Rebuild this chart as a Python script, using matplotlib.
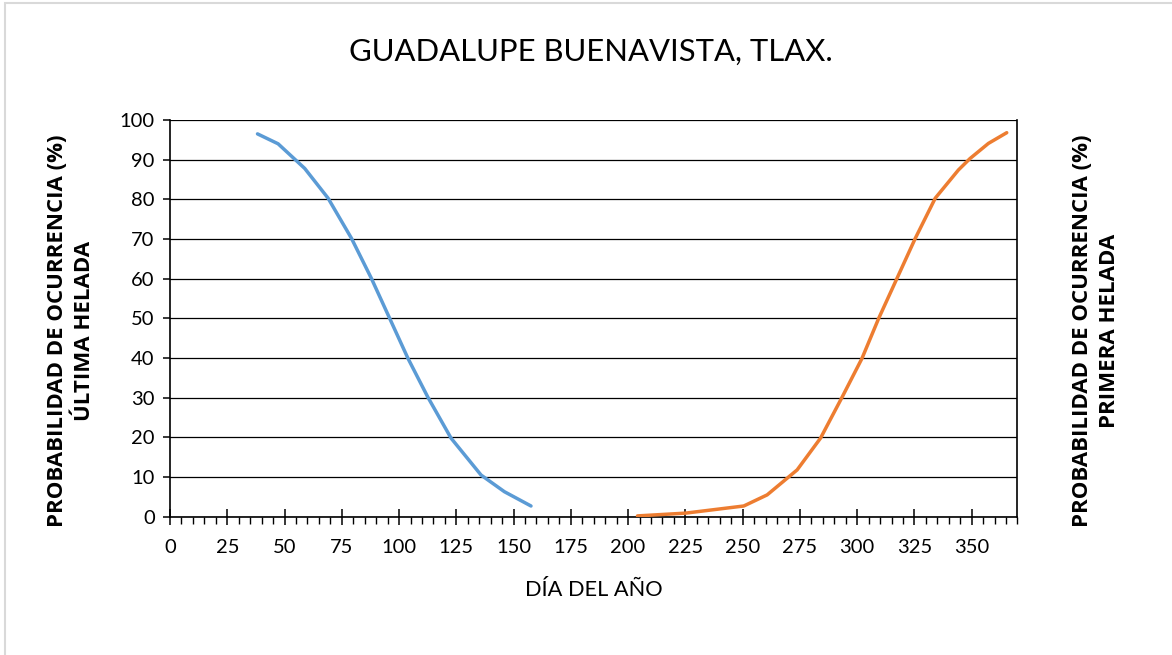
import matplotlib.pyplot as plt
from matplotlib.patches import Rectangle
from matplotlib.ticker import MultipleLocator

plt.rcParams['font.family'] = ['Lato', 'DejaVu Sans']

# ultima helada (blue)
dia_ultima = [38.2, 47.2, 58.8, 69.0, 79.2, 87.9, 95.9, 103.9, 112.6, 122.7, 135.8, 146.0, 157.6]
prob_ultima = [96.5, 94.0, 87.8, 80.3, 70.2, 60.1, 50.0, 39.9, 30.1, 19.8, 10.5, 6.3, 2.7]

# primera helada (orange)
dia_primera = [204.1, 225.1, 250.5, 260.7, 273.8, 284.0, 293.4, 302.1, 309.4, 317.4,
               325.4, 334.1, 344.2, 349.3, 357.3, 365.3]
prob_primera = [0.2, 0.9, 2.7, 5.5, 11.8, 19.8, 30.1, 39.9, 50.0, 60.1,
                70.2, 80.3, 87.4, 90.3, 94.1, 96.8]

W, H = 1172, 655
fig = plt.figure(figsize=(W / 100, H / 100), dpi=100)

# light border of the chart box
fig.patches.append(Rectangle((5 / W, -0.1), 1.2, 1 - 3 / H + 0.1, transform=fig.transFigure,
                             fill=False, edgecolor='#d9d9d9', lw=1.5))

ax = fig.add_axes([170 / W, 1 - 516.7 / H, (1017.5 - 170) / W, (516.7 - 120) / H])

ax.plot(dia_ultima, prob_ultima, color='#5B9BD5', lw=2.5, solid_joinstyle='round',
        solid_capstyle='round', zorder=3)
ax.plot(dia_primera, prob_primera, color='#ED7D31', lw=2.5, solid_joinstyle='round',
        solid_capstyle='round', zorder=3)

ax.set_xlim(0, 370)
ax.set_ylim(0, 100)
ax.xaxis.set_minor_locator(MultipleLocator(5))
ax.yaxis.set_major_locator(MultipleLocator(10))
ax.set_xticks(range(0, 351, 25))
ax.grid(axis='y', color='black', lw=0.9)
ax.set_axisbelow(True)

ax.spines['top'].set_visible(False)
for s in ['left', 'bottom', 'right']:
    ax.spines[s].set_linewidth(1.2)

ax.tick_params(axis='x', which='major', direction='inout', length=12, width=1.1,
               labelsize=14.5, pad=10)
ax.tick_params(axis='x', which='minor', direction='out', length=5, width=1)
ax.tick_params(axis='y', which='major', direction='out', length=5, width=1.1,
               labelsize=14.5, pad=6)

ax.set_xlabel('DÍA DEL AÑO', fontsize=15.7, labelpad=17)

fig.text(591 / W, 1 - 52 / H, 'GUADALUPE BUENAVISTA, TLAX.',
         ha='center', va='center', fontsize=22.3)

lab = dict(rotation=90, ha='center', va='center', fontsize=16, fontweight='bold',
           family=['Open Sans', 'DejaVu Sans'], multialignment='center', linespacing=1.4)
fig.text(71 / W, 1 - 331 / H, 'PROBABILIDAD DE OCURRENCIA (%)\nÚLTIMA HELADA', **lab)
fig.text(1096 / W, 1 - 331 / H, 'PROBABILIDAD DE OCURRENCIA (%)\nPRIMERA HELADA', **lab)

fig.savefig('out.png', dpi=100)
